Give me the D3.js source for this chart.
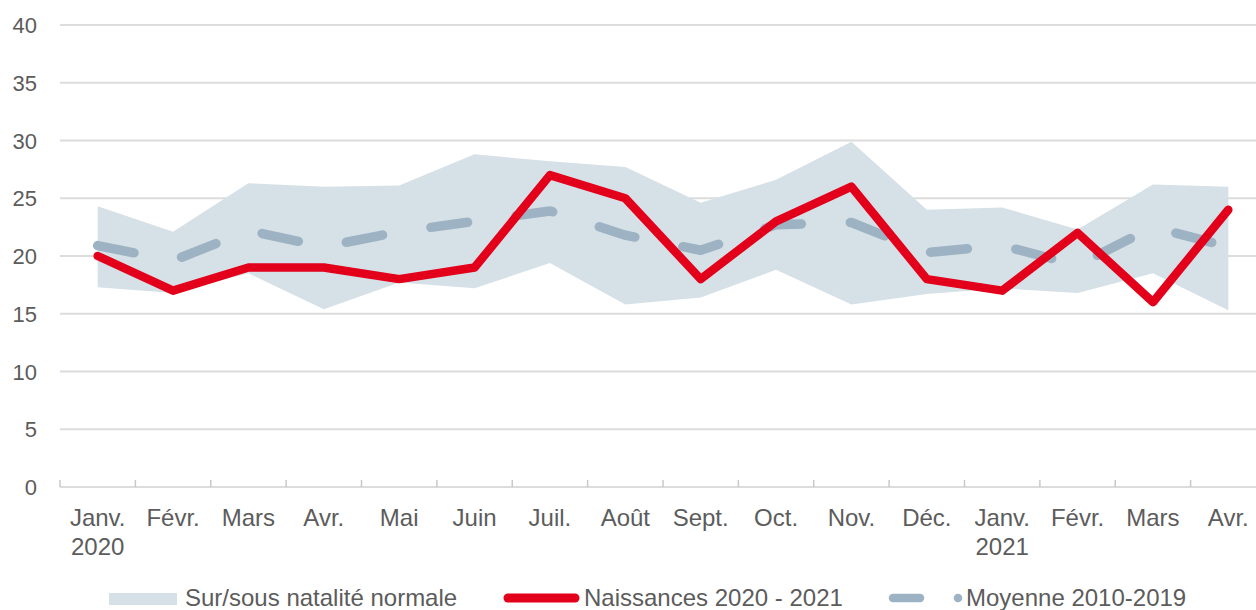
<!DOCTYPE html>
<html>
<head>
<meta charset="utf-8">
<script src="https://d3js.org/d3.v7.min.js"></script>
<style>
    body { margin: 0; background: #fff; }
    .chart text { font-family: "Liberation Sans", Arial, sans-serif; fill: #5c5c5c; }
</style>
</head>
<body>
<div class="chart"></div>
<script>

// Data
var months = ["Janv.", "Févr.", "Mars", "Avr.", "Mai", "Juin", "Juil.", "Août",
    "Sept.", "Oct.", "Nov.", "Déc.", "Janv.", "Févr.", "Mars", "Avr."];
var years = ["2020", "", "", "", "", "", "", "", "", "", "", "", "2021", "", "", ""];
var naissances = [20, 17, 19, 19, 18, 19, 27, 25, 18, 23, 26, 18, 17, 22, 16, 24];
var moyenne = [20.9, 19.6, 22.2, 20.8, 22.1, 23.0, 23.9, 21.8, 20.5, 22.7, 22.9, 20.3, 20.9, 19.2, 22.5, 20.8];
var bandHigh = [24.3, 22.1, 26.3, 26.0, 26.1, 28.8, 28.2, 27.7, 24.6, 26.6, 29.9, 24.0, 24.2, 22.3, 26.2, 26.0];
var bandLow = [17.3, 16.8, 18.5, 15.4, 17.7, 17.2, 19.4, 15.8, 16.4, 18.8, 15.8, 16.7, 17.2, 16.8, 18.5, 15.3];
var yTicks = [0, 5, 10, 15, 20, 25, 30, 35, 40];
var legendLabels = ["Sur/sous natalité normale", "Naissances 2020 - 2021", "Moyenne 2010-2019"];

var colors = { band: "#d6e0e7", red: "#e2001a", gray: "#9db2c3", grid: "#dcdcdc" };

var data = months.map(function(m, i) {
    return { key: i, month: m, year: years[i], n: naissances[i], m: moyenne[i], hi: bandHigh[i], lo: bandLow[i] };
});

var width = 1256, height = 610;
var svg = d3.select(".chart").append("svg")
    .attr("width", width)
    .attr("height", height);

// Scales
var x = d3.scaleBand()
    .domain(data.map(function(d) { return d.key; }))
    .range([60, 1266]);

var y = d3.scaleLinear()
    .domain([0, 40])
    .range([487, 25]);

function cx(d) { return x(d.key) + x.bandwidth() / 2; }

// Grid lines + y labels
svg.append("g").selectAll("line")
    .data(yTicks.filter(function(t) { return t > 0; }))
    .enter().append("line")
    .attr("x1", 60).attr("x2", width)
    .attr("y1", function(d) { return y(d); })
    .attr("y2", function(d) { return y(d); })
    .attr("stroke", colors.grid)
    .attr("stroke-width", 2);

svg.append("g").selectAll("text")
    .data(yTicks)
    .enter().append("text")
    .attr("x", 37)
    .attr("y", function(d) { return y(d) + 8; })
    .attr("text-anchor", "end")
    .style("font-size", "22px")
    .text(function(d) { return d; });

// Band
var area = d3.area()
    .x(cx)
    .y0(function(d) { return y(d.lo); })
    .y1(function(d) { return y(d.hi); });

svg.append("path")
    .datum(data)
    .attr("d", area)
    .attr("fill", colors.band);

// Average line (dashed)
svg.append("path")
    .datum(data)
    .attr("d", d3.line().x(cx).y(function(d) { return y(d.m); }))
    .attr("fill", "none")
    .attr("stroke", colors.gray)
    .attr("stroke-width", 9.5)
    .attr("stroke-linecap", "round")
    .attr("stroke-linejoin", "round")
    .attr("stroke-dasharray", "37,49");

// Births line
svg.append("path")
    .datum(data)
    .attr("d", d3.line().x(cx).y(function(d) { return y(d.n); }))
    .attr("fill", "none")
    .attr("stroke", colors.red)
    .attr("stroke-width", 8.5)
    .attr("stroke-linecap", "round")
    .attr("stroke-linejoin", "round");

// X axis
var xAxis = d3.axisBottom(x).tickSize(0).tickFormat("");
var xAxisGroup = svg.append("g")
    .attr("transform", "translate(0,487)")
    .call(xAxis);
xAxisGroup.select(".domain").remove();

xAxisGroup.append("line")
    .attr("x1", 60).attr("x2", width)
    .attr("stroke", colors.grid).attr("stroke-width", 2);

xAxisGroup.selectAll(".sep")
    .data(data)
    .enter().append("line")
    .attr("class", "sep")
    .attr("x1", function(d) { return x(d.key); })
    .attr("x2", function(d) { return x(d.key); })
    .attr("y1", -7).attr("y2", 0)
    .attr("stroke", "#c8c8c8").attr("stroke-width", 1.5);

var labels = xAxisGroup.selectAll(".lbl")
    .data(data)
    .enter().append("text")
    .attr("class", "lbl")
    .attr("text-anchor", "middle")
    .style("font-size", "24px");

labels.append("tspan")
    .attr("x", cx).attr("y", 39)
    .text(function(d) { return d.month; });
labels.append("tspan")
    .attr("x", cx).attr("y", 68)
    .text(function(d) { return d.year; });

// Legend
var legend = svg.append("g");

legend.append("rect")
    .attr("x", 109).attr("y", 593)
    .attr("width", 68).attr("height", 12)
    .attr("fill", colors.band);
legend.append("text")
    .attr("x", 185).attr("y", 606)
    .style("font-size", "24px")
    .text(legendLabels[0]);

legend.append("line")
    .attr("x1", 508).attr("x2", 575)
    .attr("y1", 598).attr("y2", 598)
    .attr("stroke", colors.red).attr("stroke-width", 9)
    .attr("stroke-linecap", "round");
legend.append("text")
    .attr("x", 584).attr("y", 606)
    .style("font-size", "24px")
    .text(legendLabels[1]);

legend.append("line")
    .attr("x1", 893).attr("x2", 920)
    .attr("y1", 598).attr("y2", 598)
    .attr("stroke", colors.gray).attr("stroke-width", 8.5)
    .attr("stroke-linecap", "round");
legend.append("circle")
    .attr("cx", 958).attr("cy", 598)
    .attr("r", 4.3)
    .attr("fill", colors.gray);
legend.append("text")
    .attr("x", 966).attr("y", 606)
    .style("font-size", "24px")
    .text(legendLabels[2]);

</script>
</body>
</html>
